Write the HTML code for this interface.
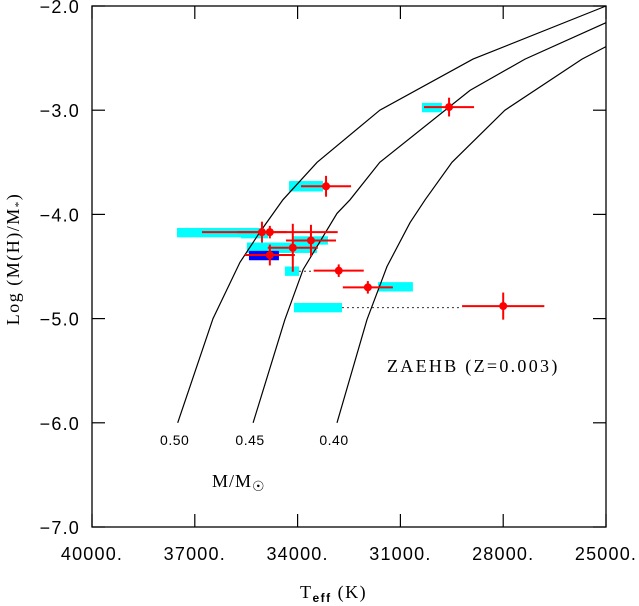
<!DOCTYPE html>
<html><head><meta charset="utf-8"><style>
html,body{margin:0;padding:0;background:#fff}
svg{display:block}
.tk{font-family:"Liberation Sans",sans-serif;font-size:18px;letter-spacing:1.2px;fill:#000}
.sf{font-family:"Liberation Serif",serif;font-size:18px;fill:#000}
</style></head><body>
<svg id="chart" width="639" height="606" viewBox="0 0 639 606">
</svg>
<script>
// ---- data ----
const xTicks = [40000, 37000, 34000, 31000, 28000, 25000];
const xTickLabels = ["40000.", "37000.", "34000.", "31000.", "28000.", "25000."];
const yTicks = [-2, -3, -4, -5, -6, -7];
const yTickLabels = ["\u22122.0", "\u22123.0", "\u22124.0", "\u22125.0", "\u22126.0", "\u22127.0"];

const trackMasses = ["0.50", "0.45", "0.40"];
const track050T = [37500, 36470, 35680, 35100, 34430, 33430, 31600, 28880, 25000];
const track050L = [-6.0, -5.0, -4.46, -4.17, -3.86, -3.5, -3.0, -2.51, -2.0];
const track045T = [35300, 34370, 33840, 32850, 32470, 31600, 28970, 27365, 25000];
const track045L = [-6.0, -5.01, -4.53, -3.99, -3.86, -3.5, -2.81, -2.51, -2.16];
const track040T = [32850, 31975, 31390, 30720, 30280, 29495, 27950, 25700, 25000];
const track040L = [-6.0, -5.01, -4.5, -4.08, -3.86, -3.5, -3.0, -2.51, -2.39];

// observed stars
const starT    = [33170, 29580, 35040, 34810, 33610, 34140, 34810, 32800, 31950, 28000];
const starL    = [-3.73, -2.97, -4.17, -4.17, -4.25, -4.32, -4.39, -4.54, -4.70, -4.88];
const starTerrHi = [730, 730, 1750, 960, 730, 730, 730, 730, 730, 1200];
const starTerrLo = [730, 730, 730, 1980, 730, 730, 730, 730, 730, 1200];
const starLerr = [0.1, 0.09, 0.1, 0.06, 0.15, 0.23, 0.1, 0.06, 0.06, 0.13];

// model boxes: Thi, Tlo, Lhi, Llo
const boxThi = [34250, 37520, 35650, 34135, 35480, 34370, 31655, 34106, 30370];
const boxTlo = [33260, 35010, 34860, 33115, 33435, 33960, 30635, 32705, 29790];
const boxLhi = [-3.68, -4.13, -4.18, -4.21, -4.27, -4.50, -4.65, -4.85, -2.93];
const boxLlo = [-3.78, -4.22, -4.23, -4.29, -4.37, -4.59, -4.74, -4.94, -3.02];
const blueThi = [35420], blueTlo = [34545], blueLhi = [-4.35], blueLlo = [-4.44];

// dotted links: from T1 to T2 at L
const linkT1 = [33960, 32705];
const linkT2 = [33530, 29200];
const linkL = [-4.545, -4.895];

// ---- axes ----
const X0 = 92, X1 = 606, Y0 = 6, Y1 = 527;
const xs = t => X0 + (40000 - t) / 15000 * (X1 - X0);
const ys = l => Y0 + (-2 - l) / 5 * (Y1 - Y0);
const svg = document.getElementById('chart');
const NS = 'http://www.w3.org/2000/svg';
function mk(tag, attrs, parent) {
  const e = document.createElementNS(NS, tag);
  for (const k in attrs) e.setAttribute(k, attrs[k]);
  (parent || svg).appendChild(e);
  return e;
}

boxThi.forEach((t, i) => {
  const r = mk('rect', {x: xs(boxThi[i]), y: ys(boxLhi[i]), width: xs(boxTlo[i]) - xs(boxThi[i]), height: ys(boxLlo[i]) - ys(boxLhi[i]), fill: '#00ffff'});
  
  
});
blueThi.forEach((t, i) => {
  const r = mk('rect', {x: xs(blueThi[i]), y: ys(blueLhi[i]), width: xs(blueTlo[i]) - xs(blueThi[i]), height: ys(blueLlo[i]) - ys(blueLhi[i]), fill: '#0000ff'});
  
  
});
linkT1.forEach((t, i) => {
  const l = mk('line', {x1: xs(linkT1[i]), x2: xs(linkT2[i]), y1: ys(linkL[i]), y2: ys(linkL[i]), stroke: '#333', 'stroke-width': 1, 'stroke-dasharray': '2,3'});
  
  
});

[[track050T, track050L], [track045T, track045L], [track040T, track040L]].forEach((tr, k) => {
  const d = tr[0].map((t, i) => (i ? 'L' : 'M') + xs(t).toFixed(1) + ',' + ys(tr[1][i]).toFixed(1)).join(' ');
  const p = mk('path', {d: d, fill: 'none', stroke: '#000', 'stroke-width': 1.2});
  
  
  const t = mk('text', {x: xs(tr[0][0]) - 3, y: 445, class: 'tk', 'text-anchor': 'middle'});
  t.style.fontSize = '14px';
  t.style.letterSpacing = '0.5px';
  t.textContent = trackMasses[k];
  
  
});

starT.forEach((t, i) => {
  const g = mk('g', {});
  
  
  const cx = xs(t), cy = ys(starL[i]);
  mk('line', {x1: xs(t + starTerrHi[i]), x2: xs(t - starTerrLo[i]), y1: cy, y2: cy, stroke: '#ff0000', 'stroke-width': 2}, g);
  mk('line', {x1: cx, x2: cx, y1: ys(starL[i] + starLerr[i]), y2: ys(starL[i] - starLerr[i]), stroke: '#ff0000', 'stroke-width': 2}, g);
  mk('circle', {cx: cx, cy: cy, r: 4, fill: '#ff0000'}, g);
});

const fr = mk('rect', {x: X0, y: Y0, width: X1 - X0, height: Y1 - Y0, fill: 'none', stroke: '#000', 'stroke-width': 1.3});



xTicks.forEach((t, i) => {
  const x = xs(t);
  mk('line', {x1: x, x2: x, y1: Y1, y2: Y1 - 13, stroke: '#000', 'stroke-width': 1.2});
  mk('line', {x1: x, x2: x, y1: Y0, y2: Y0 + 13, stroke: '#000', 'stroke-width': 1.2});
  const tx = mk('text', {x: x, y: 560, class: 'tk', 'text-anchor': 'middle'});
  tx.textContent = xTickLabels[i];
  
  
});
yTicks.forEach((l, i) => {
  const y = ys(l);
  mk('line', {x1: X0, x2: X0 + 13, y1: y, y2: y, stroke: '#000', 'stroke-width': 1.2});
  mk('line', {x1: X1, x2: X1 - 13, y1: y, y2: y, stroke: '#000', 'stroke-width': 1.2});
  const tx = mk('text', {x: 80, y: y + 7, class: 'tk', 'text-anchor': 'end'});
  tx.textContent = yTickLabels[i];
  
  
});
</script>
<svg width="639" height="606" style="position:absolute;left:0;top:0">
  <text x="300" y="598" class="sf" style="letter-spacing:1.5px">T<tspan font-size="12" font-weight="bold" dy="4" font-family="Liberation Sans">eff</tspan><tspan dy="-4"> (K)</tspan></text>
  <text transform="translate(19,259) rotate(-90)" class="sf" style="letter-spacing:1.5px" text-anchor="middle">Log (M(H)/M<tspan font-size="11" dy="3">*</tspan><tspan dy="-3">)</tspan></text>
  <text x="387" y="372" class="sf" style="letter-spacing:2.3px">ZAEHB (Z=0.003)</text>
  <text x="212" y="487" class="sf" style="letter-spacing:1px">M/M<tspan font-size="14" dy="4">☉</tspan></text>
</svg>
</body></html>
